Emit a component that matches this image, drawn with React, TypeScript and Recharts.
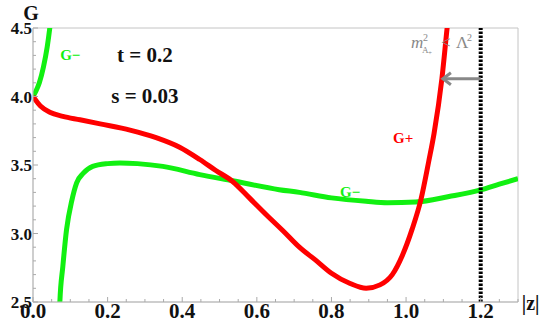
import React from 'react';
import { LineChart, Line, XAxis, YAxis, ReferenceLine, ReferenceArea, ReferenceDot } from 'recharts';

const gPlus = [
  { z: 0, G: 4.0 }, { z: 0.02, G: 3.93 }, { z: 0.045, G: 3.885 }, { z: 0.08, G: 3.855 },
  { z: 0.126, G: 3.83 }, { z: 0.18, G: 3.80 }, { z: 0.26, G: 3.755 }, { z: 0.33, G: 3.70 },
  { z: 0.393, G: 3.63 }, { z: 0.447, G: 3.54 }, { z: 0.49, G: 3.46 }, { z: 0.535, G: 3.38 },
  { z: 0.58, G: 3.26 }, { z: 0.626, G: 3.135 }, { z: 0.67, G: 3.02 }, { z: 0.714, G: 2.90 },
  { z: 0.76, G: 2.80 }, { z: 0.80, G: 2.71 }, { z: 0.85, G: 2.635 }, { z: 0.893, G: 2.60 },
  { z: 0.93, G: 2.625 }, { z: 0.963, G: 2.70 }, { z: 0.99, G: 2.84 }, { z: 1.016, G: 3.03 },
  { z: 1.04, G: 3.25 }, { z: 1.061, G: 3.53 }, { z: 1.075, G: 3.73 }, { z: 1.096, G: 4.13 },
  { z: 1.11, G: 4.5 }, { z: 1.12, G: 4.75 },
];

const gMinusA = [
  { z: 0, G: 4.0 }, { z: 0.008, G: 4.04 }, { z: 0.017, G: 4.10 }, { z: 0.028, G: 4.215 },
  { z: 0.038, G: 4.36 }, { z: 0.045, G: 4.5 }, { z: 0.05, G: 4.62 },
];

const gMinusB = [
  { z: 0.07, G: 2.3 }, { z: 0.072, G: 2.5 }, { z: 0.08, G: 2.76 }, { z: 0.09, G: 3.03 },
  { z: 0.104, G: 3.24 }, { z: 0.117, G: 3.37 }, { z: 0.135, G: 3.44 }, { z: 0.16, G: 3.49 },
  { z: 0.2, G: 3.51 }, { z: 0.233, G: 3.515 }, { z: 0.28, G: 3.51 }, { z: 0.348, G: 3.49 },
  { z: 0.447, G: 3.43 }, { z: 0.535, G: 3.385 }, { z: 0.66, G: 3.32 }, { z: 0.714, G: 3.30 },
  { z: 0.80, G: 3.26 }, { z: 0.893, G: 3.235 }, { z: 0.95, G: 3.225 }, { z: 1.026, G: 3.23 },
  { z: 1.115, G: 3.27 }, { z: 1.203, G: 3.32 }, { z: 1.25, G: 3.36 }, { z: 1.3, G: 3.40 },
];

const xTicks = [0, 0.05, 0.1, 0.15, 0.2, 0.25, 0.3, 0.35, 0.4, 0.45, 0.5, 0.55, 0.6, 0.65, 0.7, 0.75, 0.8, 0.85, 0.9, 0.95, 1.0, 1.05, 1.1, 1.15, 1.2, 1.25, 1.3];
const xLabels = [0, 0.2, 0.4, 0.6, 0.8, 1.0, 1.2];
const yTicks = [2.5, 2.6, 2.7, 2.8, 2.9, 3.0, 3.1, 3.2, 3.3, 3.4, 3.5, 3.6, 3.7, 3.8, 3.9, 4.0, 4.1, 4.2, 4.3, 4.4, 4.5];
const yLabels = [2.5, 3.0, 3.5, 4.0, 4.5];

const boundaryZ = 1.2;
const arrow = { from: 1.2, to: 1.096, G: 4.13 };

const SERIF = "'Liberation Serif', 'DejaVu Serif', serif";
const GREEN = '#11f011';
const RED = '#ff0000';
const GRAY = '#888888';

const isLabel = (list: number[], v: number) => list.some((l) => Math.abs(l - v) < 1e-6);

const XTick = (props: any) => {
  const { x, y, payload } = props;
  const v = payload.value;
  const major = isLabel(xLabels, v);
  return (
    <g>
      <line x1={x} y1={y} x2={x} y2={y - (major ? 5 : 3)} stroke="#aaa" />
      {major && (
        <text x={x} y={y + 16} textAnchor="middle" style={{ fontFamily: SERIF, fontWeight: 700, fontSize: 21 }} fill="#111">
          {v.toFixed(1)}
        </text>
      )}
    </g>
  );
};

const YTick = (props: any) => {
  const { x, y, payload } = props;
  const v = payload.value;
  const major = isLabel(yLabels, v);
  return (
    <g>
      <line x1={x} y1={y} x2={x + (major ? 5 : 3)} y2={y} stroke="#aaa" />
      {major && (
        <text x={x - 1} y={y + 6} textAnchor="end" style={{ fontFamily: SERIF, fontWeight: 700, fontSize: 17 }} fill="#111">
          {v.toFixed(1)}
        </text>
      )}
    </g>
  );
};

const txt = (s: string, color: string, size: number, anchor: string = 'middle') => (p: any) => (
  <text x={p.cx} y={p.cy} textAnchor={anchor} style={{ fontFamily: SERIF, fontWeight: 700, fontSize: size }} fill={color}>
    {s}
  </text>
);

const MassLabel = (p: any) => {
  const cx = p.cx;
  const cy = p.cy;
  const f = (size: number, italic = false) => ({ fontFamily: SERIF, fontSize: size, fontStyle: italic ? 'italic' : 'normal' });
  return (
    <g fill={GRAY}>
      <text x={cx} y={cy} style={f(17, true)}>m</text>
      <text x={cx + 12} y={cy - 7} style={f(10)}>2</text>
      <text x={cx + 11} y={cy + 5} style={f(9)}>A</text>
      <text x={cx + 17} y={cy + 7} style={f(7)}>+</text>
      <text x={cx + 30} y={cy} style={f(17)}>&lt;</text>
      <text x={cx + 45} y={cy} style={f(17)}>Λ</text>
      <text x={cx + 56} y={cy - 7} style={f(10)}>2</text>
    </g>
  );
};

const ArrowShape = (p: any) => {
  const { x1, y1, x2, y2 } = p;
  return (
    <g stroke={GRAY} strokeWidth={3} fill="none">
      <line x1={x1} y1={y1} x2={x2 + 1} y2={y2} />
      <polyline points={`${x2 + 9},${y2 - 6} ${x2 + 1},${y2} ${x2 + 9},${y2 + 6}`} />
    </g>
  );
};

export default function App() {
  return (
    <div style={{ position: 'absolute', left: 0, top: 0, width: 550, height: 330, background: '#fff' }}>
      <LineChart width={550} height={330} margin={{ top: 28, right: 32, bottom: 0, left: 0 }}>
        <XAxis
          dataKey="z"
          type="number"
          domain={[0, 1.3]}
          allowDataOverflow
          ticks={xTicks}
          interval={0}
          tick={<XTick />}
          tickLine={false}
          tickSize={0}
          tickMargin={0}
          height={28}
          stroke="#bbb"
        />
        <YAxis
          dataKey="G"
          type="number"
          domain={[2.5, 4.5]}
          allowDataOverflow
          ticks={yTicks}
          interval={0}
          tick={<YTick />}
          tickLine={false}
          tickSize={0}
          tickMargin={0}
          width={33}
          stroke="#bbb"
        />
        <ReferenceArea x1={0} x2={1.3} y1={2.5} y2={4.5} fill="none" stroke="#c4c4c4" strokeWidth={1} />
        <Line data={gMinusB} dataKey="G" type="monotone" stroke={GREEN} strokeWidth={5} dot={false} isAnimationActive={false} />
        <Line data={gMinusA} dataKey="G" type="monotone" stroke={GREEN} strokeWidth={5} dot={false} isAnimationActive={false} />
        <Line data={gPlus} dataKey="G" type="monotone" stroke={RED} strokeWidth={5} dot={false} isAnimationActive={false} />
        <ReferenceLine x={boundaryZ} stroke="#000" strokeWidth={4} strokeDasharray="2.5 1.5" />
        <ReferenceLine
          segment={[{ x: arrow.from, y: arrow.G }, { x: arrow.to, y: arrow.G }]}
          shape={ArrowShape}
        />
        <ReferenceDot x={0.30} y={4.252} r={1} shape={txt('t = 0.2', '#111', 21)} />
        <ReferenceDot x={0.30} y={3.953} r={1} shape={txt('s = 0.03', '#111', 21)} />
        <ReferenceDot x={0.10} y={4.266} r={1} shape={txt('G−', GREEN, 15)} />
        <ReferenceDot x={0.85} y={3.266} r={1} shape={txt('G−', GREEN, 15)} />
        <ReferenceDot x={0.992} y={3.66} r={1} shape={txt('G+', RED, 15)} />
        <ReferenceDot x={1.013} y={4.354} r={1} shape={MassLabel} />
        <ReferenceDot x={-0.005} y={4.56} r={1} ifOverflow="visible" shape={txt('G', '#111', 20)} />
        <ReferenceDot x={1.334} y={2.44} r={1} ifOverflow="visible" shape={txt('|z|', '#111', 20)} />
      </LineChart>
    </div>
  );
}
